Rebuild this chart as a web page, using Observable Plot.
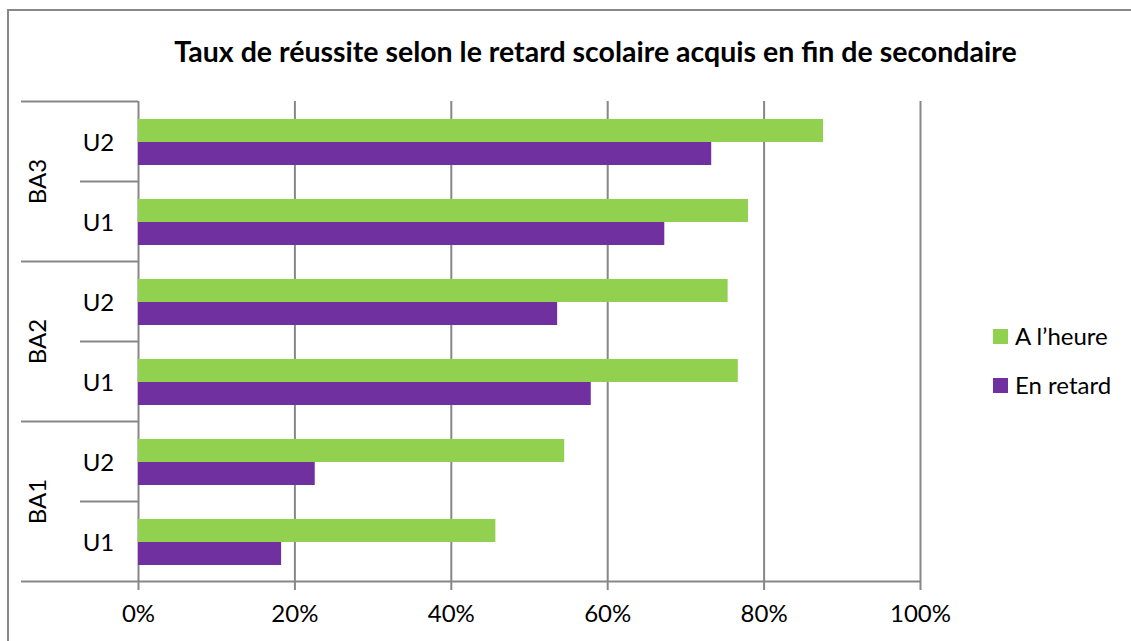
<!DOCTYPE html>
<html><head><meta charset="utf-8">
<script src="https://cdn.jsdelivr.net/npm/d3@7"></script>
<script src="https://cdn.jsdelivr.net/npm/@observablehq/plot@0.6"></script>
<style>
body{margin:0;background:#fff;}
#wrap{position:relative;width:1131px;height:641px;overflow:hidden;font-family:Lato,"Open Sans",sans-serif;color:#000;}
#frame{position:absolute;left:7px;top:9px;width:1300px;height:800px;border-left:2px solid #888;border-top:2px solid #888;}
#chart{position:absolute;left:0;top:0;}
#title{position:absolute;left:30px;width:1131px;top:34px;text-align:center;font-weight:bold;font-size:28.5px;white-space:nowrap;}
.lg{position:absolute;left:993px;font-size:24px;white-space:nowrap;}
.lg span{display:inline-block;width:15px;height:15px;margin-right:7px;vertical-align:middle;position:relative;top:-2px;}
</style></head>
<body><div id="wrap"><div id="frame"></div><div id="chart"></div>
<div id="title">Taux de réussite selon le retard scolaire acquis en fin de secondaire</div>
<div id="legend"></div></div>
<script>
const levels = ["BA3", "BA2", "BA1"];
const units = ["U2", "U1"];
const seriesNames = ["A l’heure", "En retard"];
const seriesColors = ["#92D050", "#7030A0"];
// order: BA3 U2, BA3 U1, BA2 U2, BA2 U1, BA1 U2, BA1 U1
const aLHeure = [0.876, 0.780, 0.754, 0.767, 0.545, 0.457];
const enRetard = [0.733, 0.673, 0.536, 0.579, 0.226, 0.183];
const xTicks = [0, 0.2, 0.4, 0.6, 0.8, 1];

const rows = [];
levels.forEach((lvl, i) => units.forEach((u, j) => {
  const k = i * units.length + j;
  rows.push({key: lvl + " " + u, level: lvl, unit: u, a: aLHeure[k], r: enRetard[k]});
}));
const fmt = d3.format(".0%");
const grid = "#878787";

const plot = Plot.plot({
  width: 1131, height: 641,
  marginTop: 101, marginBottom: 60, marginLeft: 138, marginRight: 211,
  style: {fontFamily: "Lato, 'Open Sans', sans-serif", fontSize: "24px", color: "#000", background: "transparent", overflow: "visible"},
  x: {domain: [0, 1], axis: null},
  y: {domain: rows.map(d => d.key), padding: 0, axis: null},
  marks: [
    Plot.ruleX(xTicks, {x: d => d, stroke: grid, strokeWidth: 2, insetBottom: -9}),
    Plot.barX(rows, {y: "key", x: "a", fill: seriesColors[0], insetTop: 18, insetBottom: 39}),
    Plot.barX(rows, {y: "key", x: "r", fill: seriesColors[1], insetTop: 41, insetBottom: 16}),
    Plot.text(xTicks, {x: d => d, text: d => fmt(d), frameAnchor: "bottom", lineAnchor: "middle", dy: 33, fontSize: 24}),
    // bottom axis line
    Plot.ruleY(rows.slice(-1), {y: "key", dy: 40, stroke: grid, strokeWidth: 2, insetLeft: -117}),
    // group separators
    Plot.ruleY(rows.filter(d => d.unit === units[0]), {y: "key", dy: -40, stroke: grid, strokeWidth: 2, insetLeft: -117, insetRight: 782}),
    // unit separators
    Plot.ruleY(rows.filter(d => d.unit === units[1]), {y: "key", dy: -40, stroke: grid, strokeWidth: 2, insetLeft: -58, insetRight: 782}),
    Plot.text(rows, {y: "key", text: "unit", frameAnchor: "left", textAnchor: "middle", dx: -40, dy: 2, fontSize: 24}),
    Plot.text(rows.filter(d => d.unit === units[0]), {y: "key", text: "level", frameAnchor: "left", textAnchor: "middle", dx: -100, dy: 40, rotate: -90, fontSize: 24})
  ]
});
document.getElementById("chart").appendChild(plot);

const legend = document.getElementById("legend");
seriesNames.forEach((name, i) => {
  const div = document.createElement("div");
  div.className = "lg";
  div.style.top = (i === 0 ? 321 : 370) + "px";
  div.innerHTML = `<span style="background:${seriesColors[i]}"></span>${name}`;
  legend.appendChild(div);
});
</script></body></html>
